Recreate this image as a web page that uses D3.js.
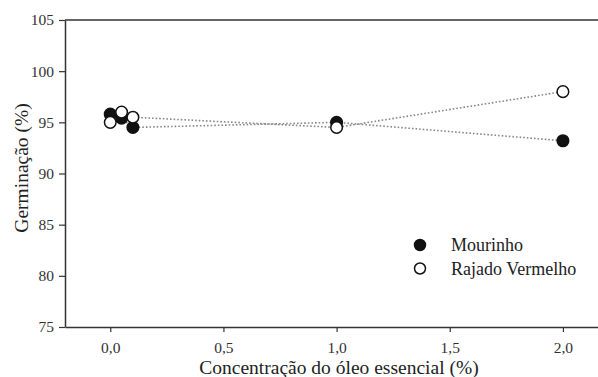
<!DOCTYPE html>
<html>
<head>
<meta charset="utf-8">
<script src="https://cdn.jsdelivr.net/npm/d3@7"></script>
<style>
  html, body { margin: 0; padding: 0; background: #fff; }
  svg { display: block; }
</style>
</head>
<body>
<svg id="chart" width="598" height="377"></svg>
<script>
// Concentrations of essential oil (%)
const concentrations = [0, 0.05, 0.1, 1.0, 2.0];
// Germination (%) per cultivar
const mourinho = [95.8, 95.4, 94.5, 95.0, 93.2];
const rajadoVermelho = [95.0, 96.0, 95.5, 94.5, 98.0];
const seriesNames = ["Mourinho", "Rajado Vermelho"];
const xTicks = [0, 0.5, 1.0, 1.5, 2.0];
const yTicks = [75, 80, 85, 90, 95, 100, 105];

const FONT = "'Liberation Serif', serif";

const svg = d3.select("#chart");
const margin = { left: 65, top: 20, right: 0, bottom: 50 };
const width = 598, height = 377;

const x = d3.scaleLinear().domain([-0.2, 2.155]).range([margin.left, width - margin.right]);
const y = d3.scaleLinear().domain([75, 105]).range([height - margin.bottom, margin.top]);

const fmt = d => d3.format(".1f")(d).replace(".", ",");

// frame: top line and axes
svg.append("line")
  .attr("x1", margin.left).attr("x2", width)
  .attr("y1", y(105)).attr("y2", y(105))
  .attr("stroke", "#333").attr("stroke-width", 1.5);

const xAxis = svg.append("g")
  .attr("transform", `translate(0,${y(75)})`)
  .call(d3.axisBottom(x).tickValues(xTicks).tickFormat(fmt).tickSize(5).tickPadding(9.5).tickSizeOuter(0));
const yAxis = svg.append("g")
  .attr("transform", `translate(${margin.left},0)`)
  .call(d3.axisLeft(y).tickValues(yTicks).tickSize(6).tickPadding(5).tickSizeOuter(0));

[xAxis, yAxis].forEach(g => {
  g.select(".domain").attr("stroke", "#333").attr("stroke-width", 1.5);
  g.selectAll(".tick line").attr("stroke", "#333").attr("stroke-width", 1.2);
  g.selectAll(".tick text")
    .style("font-family", FONT)
    .style("font-size", "15.5px")
    .attr("fill", "#333");
});

// axis titles
svg.append("text")
  .attr("x", 339).attr("y", 374)
  .attr("text-anchor", "middle")
  .style("font-family", FONT)
  .style("font-size", "19.5px")
  .attr("fill", "#222")
  .text("Concentração do óleo essencial (%)");
svg.append("text")
  .attr("transform", "translate(28,168) rotate(-90)")
  .attr("text-anchor", "middle")
  .style("font-family", FONT)
  .style("font-size", "19.5px")
  .attr("fill", "#222")
  .text("Germinação (%)");

const series = [
  { name: seriesNames[0], values: mourinho, fill: "#111" },
  { name: seriesNames[1], values: rajadoVermelho, fill: "#fff" }
];

const line = d3.line().x(d => x(d[0])).y(d => y(d[1]));

// dotted connecting lines
series.forEach(s => {
  svg.append("path")
    .datum(concentrations.map((c, i) => [c, s.values[i]]))
    .attr("d", line)
    .attr("fill", "none")
    .attr("stroke", "#888")
    .attr("stroke-width", 1.6)
    .attr("stroke-dasharray", "1.6,2");
});

// markers
series.forEach(s => {
  svg.append("g").selectAll("circle")
    .data(concentrations.map((c, i) => [c, s.values[i]]))
    .join("circle")
    .attr("cx", d => x(d[0]))
    .attr("cy", d => y(d[1]))
    .attr("r", 5.8)
    .attr("fill", s.fill)
    .attr("stroke", "#111")
    .attr("stroke-width", 1.5);
});

// legend
const legend = svg.append("g");
series.forEach((s, i) => {
  const ly = 245 + i * 23.5;
  legend.append("circle")
    .attr("cx", 420).attr("cy", ly).attr("r", 5.5)
    .attr("fill", s.fill).attr("stroke", "#111").attr("stroke-width", 1.5);
  legend.append("text")
    .attr("x", 451).attr("y", ly + 6)
    .style("font-family", FONT)
    .style("font-size", "18px")
    .attr("fill", "#222")
    .text(s.name);
});
</script>
</body>
</html>
